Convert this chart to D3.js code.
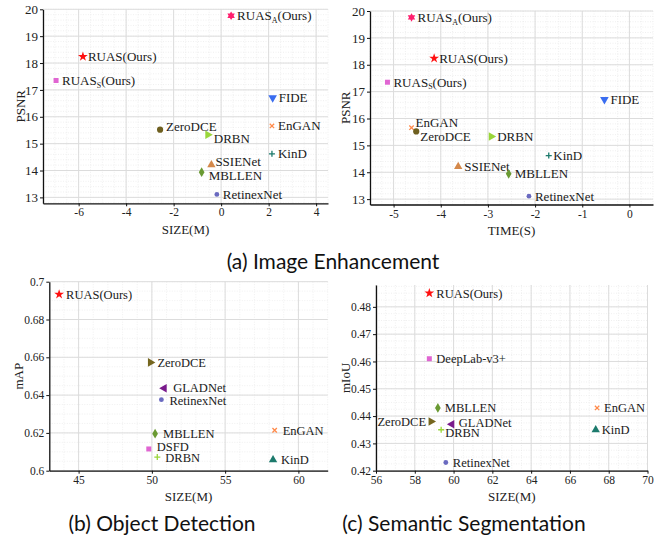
<!DOCTYPE html>
<html>
<head>
<meta charset="utf-8">
<script src="https://cdn.jsdelivr.net/npm/d3@7.9.0/dist/d3.min.js"></script>
<style>
  html, body { margin: 0; padding: 0; background: #fff; }
  svg { display: block; }
  .tick text { font-family: "Liberation Serif", serif; font-size: 11.5px; fill: #222; }
  .lbl { font-family: "Liberation Serif", serif; font-size: 13px; fill: #1a1a1a; }
  .ttl { font-family: "Liberation Serif", serif; font-size: 13px; fill: #222; }
  .cap { font-family: Lato, "Noto Sans", sans-serif; font-size: 21px; fill: #111; }
</style>
</head>
<body>
<svg id="chart" width="667" height="539"></svg>
<script>
// ---- data ----
// (a) image enhancement: both plots share the method list and PSNR values
const enhMethods = ['RUAS_A(Ours)', 'RUAS(Ours)', 'RUAS_S(Ours)', 'FIDE', 'EnGAN', 'ZeroDCE',
  'DRBN', 'KinD', 'SSIENet', 'MBLLEN', 'RetinexNet'];
const enhSize = [0.42, -5.82, -6.95, 2.17, 2.14, -2.57, -0.56, 2.14, -0.41, -0.82, -0.18];
const enhTime = [-4.62, -4.14, -5.13, -0.53, -4.62, -4.52, -2.93, -1.71, -3.63, -2.56, -2.13];
const enhPsnr = [19.76, 18.24, 17.35, 16.71, 15.66, 15.52, 15.33, 14.62, 14.21, 13.94, 13.11];

// (b) object detection
const detMethods = ['RUAS(Ours)', 'ZeroDCE', 'GLADNet', 'RetinexNet', 'MBLLEN', 'EnGAN', 'DSFD', 'DRBN', 'KinD'];
const detSize = [43.67, 49.9, 50.84, 50.65, 50.22, 58.38, 49.79, 50.37, 58.27];
const detMap = [0.6933, 0.6573, 0.6436, 0.6376, 0.6196, 0.6214, 0.6115, 0.6072, 0.6058];

// (c) semantic segmentation
const segMethods = ['RUAS(Ours)', 'DeepLab-v3+', 'MBLLEN', 'ZeroDCE', 'GLADNet', 'DRBN', 'RetinexNet', 'EnGAN', 'KinD'];
const segSize = [58.75, 58.75, 59.19, 58.84, 59.91, 59.36, 59.6, 67.4, 67.33];
const segMiou = [0.485, 0.461, 0.443, 0.438, 0.437, 0.435, 0.423, 0.443, 0.435];

// tick labels
const ticksA1x = [-6, -4, -2, 0, 2, 4];
const ticksA2x = [-5, -4, -3, -2, -1, 0];
const ticksAy = [13, 14, 15, 16, 17, 18, 19, 20];
const ticksBx = [45, 50, 55, 60];
const ticksBy = ['0.6', '0.62', '0.64', '0.66', '0.68', '0.7'];
const ticksCx = [56, 58, 60, 62, 64, 66, 68, 70];
const ticksCy = ['0.42', '0.43', '0.44', '0.45', '0.46', '0.47', '0.48'];

// ---- marker styles ----
const styleEnh = {
  'RUAS_A(Ours)': ['hexagram', '#ff1f6e'],
  'RUAS(Ours)': ['star', '#ff1010'],
  'RUAS_S(Ours)': ['square', '#e065d2'],
  'FIDE': ['tridown', '#3a6df0'],
  'EnGAN': ['x', '#ff8a4a'],
  'ZeroDCE': ['circle', '#6e5f1f'],
  'DRBN': ['triright', '#9ad63a'],
  'KinD': ['plus', '#1c7a6c'],
  'SSIENet': ['triup', '#d4884a'],
  'MBLLEN': ['diamond', '#6a9a32'],
  'RetinexNet': ['circlesm', '#6a6ac0']
};
const styleTask = {
  'RUAS(Ours)': ['star', '#ff1010'],
  'ZeroDCE': ['triright', '#75661f'],
  'GLADNet': ['trileft', '#7a1a8c'],
  'RetinexNet': ['circlesm', '#6a6ac0'],
  'MBLLEN': ['diamond', '#6a9a32'],
  'EnGAN': ['x', '#ff8a4a'],
  'DSFD': ['square', '#e065d2'],
  'DeepLab-v3+': ['square', '#e065d2'],
  'DRBN': ['plus', '#9ad63a'],
  'KinD': ['triup', '#1c7a6c']
};

function markerPath(shape) {
  const sym = d3.symbol();
  switch (shape) {
    case 'star': return sym.type(d3.symbolStar).size(30)();
    case 'square': return sym.type(d3.symbolSquare).size(25)();
    case 'circle': return sym.type(d3.symbolCircle).size(30)();
    case 'circlesm': return sym.type(d3.symbolCircle).size(18)();
    case 'diamond': return sym.type(d3.symbolDiamond).size(28)();
    case 'triup': return sym.type(d3.symbolTriangle).size(30)();
    case 'plus': return 'M-3,0H3M0,-3V3';
    case 'x': return 'M-2.2,-2.2L2.2,2.2M-2.2,2.2L2.2,-2.2';
    case 'hexagram': {
      const pts = [];
      for (let i = 0; i < 12; i++) {
        const r = i % 2 === 0 ? 4.3 : 2.5;
        const a = Math.PI / 6 * i - Math.PI / 2;
        pts.push([r * Math.cos(a), r * Math.sin(a)]);
      }
      return 'M' + pts.join('L') + 'Z';
    }
    default: return sym.type(d3.symbolTriangle).size(32)();
  }
}
const rot = { tridown: 180, triright: 90, trileft: -90 };
const stroked = { plus: true, x: true };

const svg = d3.select('#chart');
svg.append('rect').attr('width', 667).attr('height', 539).attr('fill', '#fff');

function drawLabel(g, text, x, y, anchor, size) {
  const t = g.append('text').attr('class', 'lbl')
    .attr('x', x).attr('y', y).attr('dy', '0.35em').attr('text-anchor', anchor);
  if (size) t.style('font-size', size + 'px');
  const m = text.match(/^(.*?)_(\w)(.*)$/);
  if (m) {
    t.append('tspan').text(m[1]);
    t.append('tspan').style('font-size', '8px').attr('dy', '2.5').text(m[2]);
    t.append('tspan').attr('dy', '-2.5').text(m[3]);
  } else {
    t.text(text);
  }
}

function panel(cfg) {
  const g = svg.append('g');
  const x = d3.scaleLinear().domain(cfg.xdom).range([cfg.left, cfg.right]);
  const y = d3.scaleLinear().domain(cfg.ydom).range([cfg.bottom, cfg.top]);
  const ytv = cfg.yticks.map(Number);

  // minor grid
  const xs0 = d3.range(cfg.xdom[0], cfg.xdom[1] + 1e-9, cfg.xminor);
  const ys0 = d3.range(ytv[0] - cfg.yminor * 10, cfg.ydom[1] + 1e-9, cfg.yminor)
    .filter(v => v >= cfg.ydom[0] - 1e-9);
  g.selectAll('.mx').data(xs0).join('line')
    .attr('x1', d => x(d)).attr('x2', d => x(d)).attr('y1', cfg.top).attr('y2', cfg.bottom)
    .attr('stroke', '#e6e6e6').attr('stroke-width', 0.6).attr('stroke-dasharray', '1,1.5');
  g.selectAll('.my').data(ys0).join('line')
    .attr('x1', cfg.left).attr('x2', cfg.right).attr('y1', d => y(d)).attr('y2', d => y(d))
    .attr('stroke', '#e6e6e6').attr('stroke-width', 0.6).attr('stroke-dasharray', '1,1.5');

  // major grid
  g.selectAll('.gx').data(cfg.xticks).join('line')
    .attr('x1', d => x(d)).attr('x2', d => x(d)).attr('y1', cfg.top).attr('y2', cfg.bottom)
    .attr('stroke', '#dcdcdc').attr('stroke-width', 1);
  g.selectAll('.gy').data(ytv).join('line')
    .attr('x1', cfg.left).attr('x2', cfg.right).attr('y1', d => y(d)).attr('y2', d => y(d))
    .attr('stroke', '#dcdcdc').attr('stroke-width', 1);

  // axes
  const ax = g.append('g').attr('transform', `translate(0,${cfg.bottom})`)
    .call(d3.axisBottom(x).tickValues(cfg.xticks).tickSize(3).tickSizeOuter(0).tickPadding(2)
      .tickFormat(d => String(d)));
  const ay = g.append('g').attr('transform', `translate(${cfg.left},0)`)
    .call(d3.axisLeft(y).tickValues(ytv).tickSize(3).tickSizeOuter(0).tickPadding(2)
      .tickFormat((d, i) => cfg.yticks[i]));
  [ax, ay].forEach(a => {
    a.attr('font-family', '"Liberation Serif", serif').attr('font-size', 11.5);
    a.select('.domain').attr('stroke', '#111').attr('stroke-width', 1.3);
    a.selectAll('.tick line').attr('stroke', '#111');
  });
  if (cfg.yfont) ay.selectAll('.tick text').style('font-size', cfg.yfont + 'px');

  g.append('text').attr('class', 'ttl').attr('text-anchor', 'middle')
    .attr('x', (cfg.left + cfg.right) / 2).attr('y', cfg.bottom + 26).attr('dy', '0.35em')
    .text(cfg.xlabel);
  g.append('text').attr('class', 'ttl').attr('text-anchor', 'middle')
    .attr('transform', `translate(${cfg.ylabelX},${(cfg.top + cfg.bottom) / 2}) rotate(-90)`)
    .attr('dy', '0.35em').text(cfg.ylabel);

  // points + labels
  cfg.names.forEach((name, i) => {
    const [shape, color] = cfg.styles[name];
    const px = x(cfg.xs[i]), py = y(cfg.ys[i]);
    const p = g.append('path').attr('d', markerPath(shape))
      .attr('transform', `translate(${px},${py}) rotate(${rot[shape] || 0})`);
    if (stroked[shape]) p.attr('fill', 'none').attr('stroke', color).attr('stroke-width', 1.3);
    else p.attr('fill', color);
    const off = cfg.offsets[name] || [6, 0];
    drawLabel(g, name, px + off[0], py + off[1], off[0] < 0 ? 'end' : 'start', cfg.labelSize);
  });
}

// label offsets from the marker (layout only)
const offA1 = { 'ZeroDCE': [6, -3], 'DRBN': [6, 4], 'SSIENet': [4, -3], 'MBLLEN': [7, 3.5], 'RUAS(Ours)': [5, 0] };
const offA2 = { 'EnGAN': [4, -5], 'ZeroDCE': [4, 5], 'KinD': [4.5, 0], 'RUAS(Ours)': [5, 0] };
const offB = { 'RUAS(Ours)': [7, 0], 'ZeroDCE': [7, 0], 'GLADNet': [9, -0.5], 'RetinexNet': [8, 0.5], 'MBLLEN': [8, 0],
  'EnGAN': [8, 0], 'DSFD': [8, -2.5], 'DRBN': [8, 0.5], 'KinD': [8, 0] };
const offC = { 'RUAS(Ours)': [7, 0], 'DeepLab-v3+': [7, 0], 'MBLLEN': [7, 0], 'ZeroDCE': [-5, 0],
  'GLADNet': [7, -2], 'DRBN': [4, 2.5], 'RetinexNet': [7, 0], 'EnGAN': [7, 0], 'KinD': [6, 0] };

panel({ left: 43, right: 328, top: 9.3, bottom: 203.3, xdom: [-7.5, 4.5], ydom: [12.78, 20],
  xticks: ticksA1x, yticks: ticksAy.map(String), xminor: 0.5, yminor: 0.2, yfont: 13,
  xlabel: 'SIZE(M)', ylabel: 'PSNR', ylabelX: 20.7, labelSize: 13,
  names: enhMethods, xs: enhSize, ys: enhPsnr, styles: styleEnh, offsets: offA1 });
panel({ left: 370, right: 653, top: 11, bottom: 204.5, xdom: [-5.5, 0.5], ydom: [12.8, 20],
  xticks: ticksA2x, yticks: ticksAy.map(String), xminor: 0.25, yminor: 0.2, yfont: 13,
  xlabel: 'TIME(S)', ylabel: 'PSNR', ylabelX: 345, labelSize: 13,
  names: enhMethods, xs: enhTime, ys: enhPsnr, styles: styleEnh, offsets: offA2 });
panel({ left: 49.3, right: 327.7, top: 281.7, bottom: 470.7, xdom: [43, 62], ydom: [0.6, 0.7],
  xticks: ticksBx, yticks: ticksBy, xminor: 1, yminor: 0.005,
  xlabel: 'SIZE(M)', ylabel: 'mAP', ylabelX: 18.3, labelSize: 12.5,
  names: detMethods, xs: detSize, ys: detMap, styles: styleTask, offsets: offB });
panel({ left: 376, right: 647.5, top: 285, bottom: 470.7, xdom: [56, 70], ydom: [0.42, 0.488],
  xticks: ticksCx, yticks: ticksCy, xminor: 0.5, yminor: 0.0025,
  xlabel: 'SIZE(M)', ylabel: 'mIoU', ylabelX: 345, labelSize: 12.5,
  names: segMethods, xs: segSize, ys: segMiou, styles: styleTask, offsets: offC });

// captions
svg.append('text').attr('class', 'cap').attr('text-anchor', 'middle').attr('x', 333).attr('y', 269)
  .text('(a) Image Enhancement');
svg.append('text').attr('class', 'cap').attr('text-anchor', 'middle').attr('x', 162).attr('y', 531)
  .text('(b) Object Detection');
svg.append('text').attr('class', 'cap').attr('text-anchor', 'middle').attr('x', 464).attr('y', 531)
  .text('(c) Semantic Segmentation');
</script>
</body>
</html>
